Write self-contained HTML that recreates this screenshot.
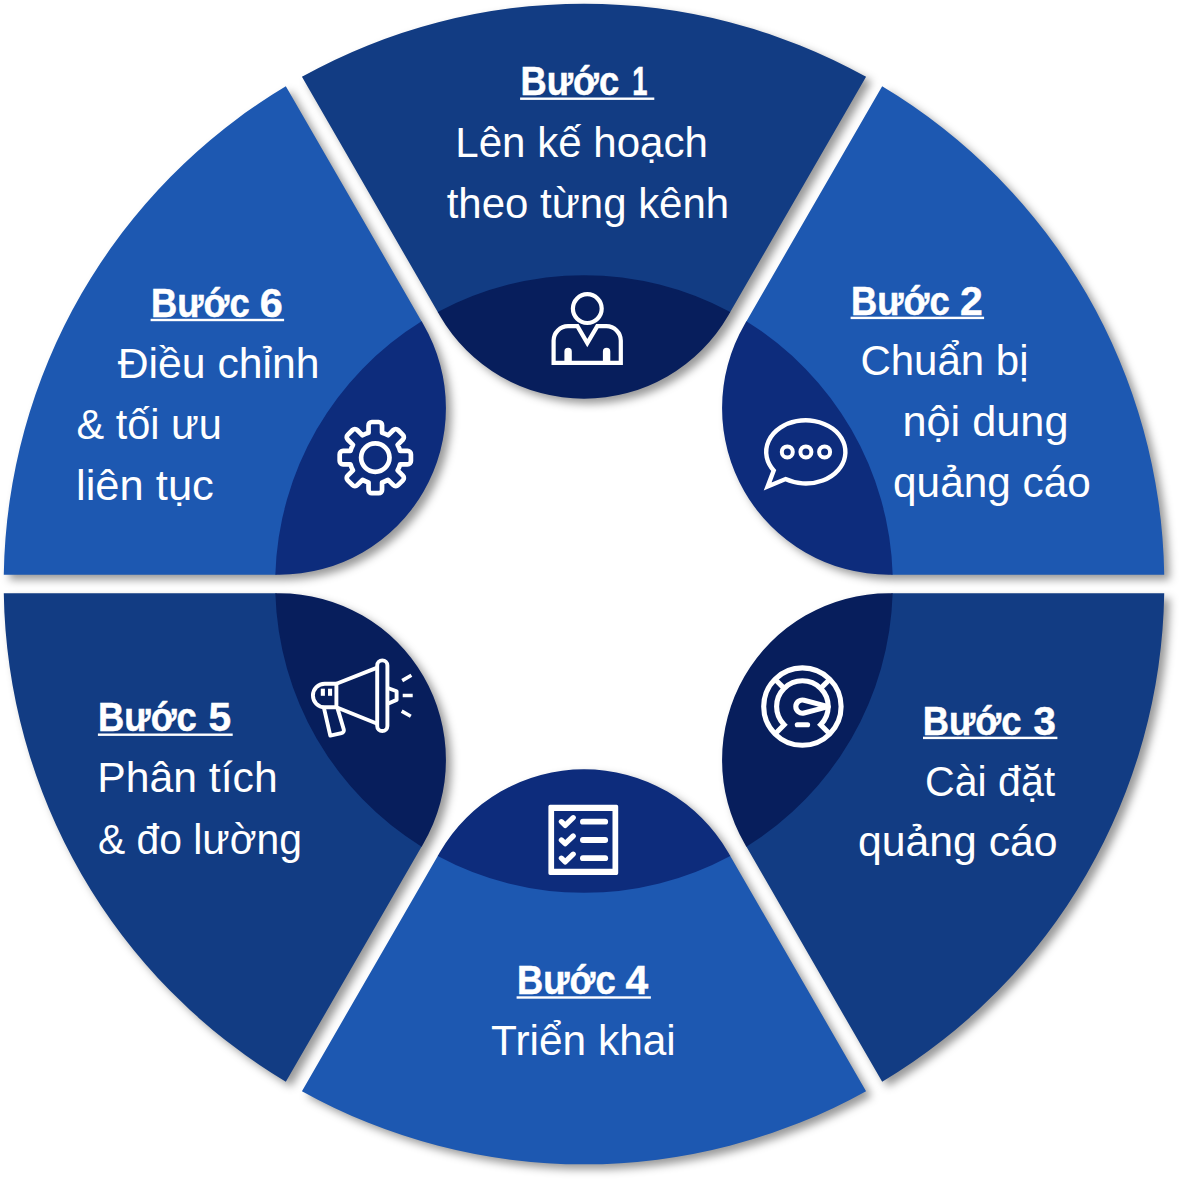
<!DOCTYPE html>
<html lang="vi"><head><meta charset="utf-8"><title>Quy trình 6 bước</title>
<style>html,body{margin:0;padding:0;background:#fff}body{width:1180px;height:1180px;overflow:hidden}svg{display:block}
text{font-family:"Liberation Sans",sans-serif;fill:#fff}</style></head>
<body><svg width="1180" height="1180" viewBox="0 0 1180 1180">
<defs><filter id="sh" color-interpolation-filters="sRGB" x="-5%" y="-5%" width="112%" height="112%"><feDropShadow dx="5.5" dy="5" stdDeviation="4.4" flood-color="#000" flood-opacity="0.4"/></filter>
</defs>
<rect width="1180" height="1180" fill="#fff"/>
<g filter="url(#sh)"><path d="M301.94 76.86 A580.3 580.3 0 0 1 866.06 76.86 L729.68 313.08 A307.6 307.6 0 0 0 438.32 313.08 Z" fill="#123c83"/><path d="M437.72 312.04 A308.8 308.8 0 0 1 730.28 312.04 L728.28 315.50 A166.6 166.6 0 0 1 439.72 315.50 Z" fill="#071e5c"/></g>
<g filter="url(#sh)"><path d="M882.17 86.16 A580.3 580.3 0 0 1 1164.23 574.70 L891.46 574.70 A307.6 307.6 0 0 0 745.78 322.38 Z" fill="#1d58b1"/><path d="M746.38 321.34 A308.8 308.8 0 0 1 892.66 574.70 L888.67 574.70 A166.6 166.6 0 0 1 744.39 324.80 Z" fill="#0d2c7c"/></g>
<g filter="url(#sh)"><path d="M1164.23 593.30 A580.3 580.3 0 0 1 882.17 1081.84 L745.78 845.62 A307.6 307.6 0 0 0 891.46 593.30 Z" fill="#123c83"/><path d="M892.66 593.30 A308.8 308.8 0 0 1 746.38 846.66 L744.39 843.20 A166.6 166.6 0 0 1 888.67 593.30 Z" fill="#071e5c"/></g>
<g filter="url(#sh)"><path d="M866.06 1091.14 A580.3 580.3 0 0 1 301.94 1091.14 L438.32 854.92 A307.6 307.6 0 0 0 729.68 854.92 Z" fill="#1d58b1"/><path d="M730.28 855.96 A308.8 308.8 0 0 1 437.72 855.96 L439.72 852.50 A166.6 166.6 0 0 1 728.28 852.50 Z" fill="#0d2c7c"/></g>
<g filter="url(#sh)"><path d="M285.83 1081.84 A580.3 580.3 0 0 1 3.77 593.30 L276.54 593.30 A307.6 307.6 0 0 0 422.22 845.62 Z" fill="#123c83"/><path d="M421.62 846.66 A308.8 308.8 0 0 1 275.34 593.30 L279.33 593.30 A166.6 166.6 0 0 1 423.61 843.20 Z" fill="#071e5c"/></g>
<g filter="url(#sh)"><path d="M3.77 574.70 A580.3 580.3 0 0 1 285.83 86.16 L422.22 322.38 A307.6 307.6 0 0 0 276.54 574.70 Z" fill="#1d58b1"/><path d="M275.34 574.70 A308.8 308.8 0 0 1 421.62 321.34 L423.61 324.80 A166.6 166.6 0 0 1 279.33 574.70 Z" fill="#0d2c7c"/></g>
<g fill="none" stroke="#fff" stroke-width="4.2" stroke-linejoin="miter"><circle cx="587.3" cy="308.6" r="14.4"/><path d="M553.6 362.9 V340.6 A14.4 14.4 0 0 1 568 326.2 H577.4 L587.3 343.1 L597.3 326.2 H606.4 A14.4 14.4 0 0 1 620.8 340.6 V362.9 Z"/><path d="M568.1 361 V351.4 M606.6 361 V351.4" stroke-width="7.4" stroke-linecap="round"/></g>
<g fill="none" stroke="#fff" stroke-width="4.4" stroke-linejoin="miter"><path d="M773.72 470.43 A39.6 31.6 0 1 1 785.52 479.04 L767.6 486.6 Z"/><circle cx="787.3" cy="451.9" r="5.5" stroke-width="4"/><circle cx="805.9" cy="451.9" r="5.5" stroke-width="4"/><circle cx="824.6" cy="451.9" r="5.5" stroke-width="4"/></g>
<g fill="none" stroke="#fff" stroke-width="5.1" stroke-linejoin="round"><circle cx="802.4" cy="706.6" r="38.7"/><path stroke-linejoin="miter" d="M775.03 733.97 L784.16 724.84 A25.8 25.8 0 1 1 820.64 724.84 L829.77 733.97"/><path d="M820.64 688.36 L829.77 679.23"/><path d="M784.16 688.36 L775.03 679.23"/><path d="M828.20 706.60 L804.09 700.22 A6.6 6.6 0 1 0 804.09 712.98 Z"/><path d="M797.3 724.7 H807.6" stroke-linecap="round"/></g>
<g fill="none" stroke="#fff"><path fill="#fff" stroke="none" fill-rule="evenodd" d="M550 804.8 H616.6 A1.6 1.6 0 0 1 618.2 806.4 V873.3 A1.6 1.6 0 0 1 616.6 874.9 H550 A1.6 1.6 0 0 1 548.4 873.3 V806.4 A1.6 1.6 0 0 1 550 804.8 Z M554.1 810.9 V868.8 H612.5 V810.9 Z"/><path d="M582.9 821.7 H605.2" stroke-width="5.8" stroke-linecap="round"/><path d="M561.4 821.7 L565.2 825.4 L573.2 817.7" stroke-width="5.3" stroke-linecap="round" stroke-linejoin="round"/><path d="M582.9 840.0 H605.2" stroke-width="5.8" stroke-linecap="round"/><path d="M561.4 840.0 L565.2 843.7 L573.2 836.0" stroke-width="5.3" stroke-linecap="round" stroke-linejoin="round"/><path d="M582.9 858.2 H605.2" stroke-width="5.8" stroke-linecap="round"/><path d="M561.4 858.2 L565.2 861.9 L573.2 854.2" stroke-width="5.3" stroke-linecap="round" stroke-linejoin="round"/></g>
<g fill="none" stroke="#fff" stroke-width="3.9" stroke-linejoin="round"><path d="M336.4 683.7 H324.7 A11.8 11.8 0 0 0 324.7 707.3 H336.4 Z"/><path d="M336.4 683.7 L377.3 667.6 M336.4 707.3 L377.3 723.8"/><rect x="377.2" y="660.4" width="10.2" height="70.6" rx="5.1"/><path d="M388.4 688.2 L396.6 691.3 V699.9 L388.4 703.5"/><path d="M324.1 708.6 L330.3 735.6 L341.5 733.2 A3 3 0 0 0 343.8 729.5 L337.6 708.6"/><path d="M402.2 680.6 L411.4 675.3 M402.7 695.5 H412.7 M401.7 711.1 L410.8 716.2" stroke-width="3.6"/><rect x="320.8" y="688.7" width="4.1" height="7.1" fill="#fff" stroke="none"/><rect x="328" y="688.7" width="4.1" height="7.1" fill="#fff" stroke="none"/></g>
<g fill="none" stroke="#fff" stroke-width="4.7" stroke-linejoin="round"><path d="M368.55 432.80 L368.55 425.30 A3.3 3.3 0 0 1 371.85 422.00 L378.75 422.00 A3.3 3.3 0 0 1 382.05 425.30 L382.05 432.80 A25.70 25.70 0 0 1 388.06 435.29 L393.37 429.99 A3.3 3.3 0 0 1 398.03 429.99 L402.91 434.87 A3.3 3.3 0 0 1 402.91 439.53 L397.61 444.84 A25.70 25.70 0 0 1 400.10 450.85 L407.60 450.85 A3.3 3.3 0 0 1 410.90 454.15 L410.90 461.05 A3.3 3.3 0 0 1 407.60 464.35 L400.10 464.35 A25.70 25.70 0 0 1 397.61 470.36 L402.91 475.67 A3.3 3.3 0 0 1 402.91 480.33 L398.03 485.21 A3.3 3.3 0 0 1 393.37 485.21 L388.06 479.91 A25.70 25.70 0 0 1 382.05 482.40 L382.05 489.90 A3.3 3.3 0 0 1 378.75 493.20 L371.85 493.20 A3.3 3.3 0 0 1 368.55 489.90 L368.55 482.40 A25.70 25.70 0 0 1 362.54 479.91 L357.23 485.21 A3.3 3.3 0 0 1 352.57 485.21 L347.69 480.33 A3.3 3.3 0 0 1 347.69 475.67 L352.99 470.36 A25.70 25.70 0 0 1 350.50 464.35 L343.00 464.35 A3.3 3.3 0 0 1 339.70 461.05 L339.70 454.15 A3.3 3.3 0 0 1 343.00 450.85 L350.50 450.85 A25.70 25.70 0 0 1 352.99 444.84 L347.69 439.53 A3.3 3.3 0 0 1 347.69 434.87 L352.57 429.99 A3.3 3.3 0 0 1 357.23 429.99 L362.54 435.29 A25.70 25.70 0 0 1 368.55 432.80 Z"/><circle cx="375.3" cy="457.6" r="14.2"/></g>
<text y="95.30" font-size="41" font-weight="bold" stroke="#fff" stroke-width="0.5"><tspan id="t0a" x="520.50" textLength="98.59" lengthAdjust="spacingAndGlyphs">Bước</tspan> <tspan id="t0b" x="632.20" textLength="15.21" lengthAdjust="spacingAndGlyphs">1</tspan></text>
<rect x="520.1" y="97.5" width="134.2" height="2.4" fill="#fff"/>
<text id="t1" y="156.60" font-size="42" x="455.30" textLength="252.64" lengthAdjust="spacingAndGlyphs">Lên kế hoạch</text>
<text id="t2" y="217.50" font-size="42" x="446.70" textLength="282.46" lengthAdjust="spacingAndGlyphs">theo từng kênh</text>
<text y="314.50" font-size="41" font-weight="bold" stroke="#fff" stroke-width="0.5"><tspan id="t3a" x="851.00" textLength="98.59" lengthAdjust="spacingAndGlyphs">Bước</tspan> <tspan id="t3b" x="959.90" textLength="22.75" lengthAdjust="spacingAndGlyphs">2</tspan></text>
<rect x="850.6" y="316.7" width="133.5" height="2.4" fill="#fff"/>
<text id="t4" y="375.10" font-size="42" x="860.40" textLength="168.12" lengthAdjust="spacingAndGlyphs">Chuẩn bị</text>
<text id="t5" y="436.00" font-size="42" x="902.50" textLength="165.96" lengthAdjust="spacingAndGlyphs">nội dung</text>
<text id="t6" y="497.30" font-size="42" x="893.10" textLength="197.62" lengthAdjust="spacingAndGlyphs">quảng cáo</text>
<text y="734.50" font-size="41" font-weight="bold" stroke="#fff" stroke-width="0.5"><tspan id="t7a" x="922.80" textLength="98.61" lengthAdjust="spacingAndGlyphs">Bước</tspan> <tspan id="t7b" x="1033.40" textLength="22.40" lengthAdjust="spacingAndGlyphs">3</tspan></text>
<rect x="923.0" y="736.7" width="134.4" height="2.4" fill="#fff"/>
<text id="t8" y="795.50" font-size="42" x="925.00" textLength="130.22" lengthAdjust="spacingAndGlyphs">Cài đặt</text>
<text id="t9" y="856.40" font-size="42" x="857.90" textLength="199.67" lengthAdjust="spacingAndGlyphs">quảng cáo</text>
<text y="994.10" font-size="41" font-weight="bold" stroke="#fff" stroke-width="0.5"><tspan id="t10a" x="517.00" textLength="98.59" lengthAdjust="spacingAndGlyphs">Bước</tspan> <tspan id="t10b" x="625.50" textLength="22.66" lengthAdjust="spacingAndGlyphs">4</tspan></text>
<rect x="516.6" y="996.3" width="134.3" height="2.4" fill="#fff"/>
<text id="t11" y="1055.20" font-size="42" x="491.10" textLength="184.71" lengthAdjust="spacingAndGlyphs">Triển khai</text>
<text y="731.30" font-size="41" font-weight="bold" stroke="#fff" stroke-width="0.5"><tspan id="t12a" x="98.10" textLength="98.62" lengthAdjust="spacingAndGlyphs">Bước</tspan> <tspan id="t12b" x="208.40" textLength="22.62" lengthAdjust="spacingAndGlyphs">5</tspan></text>
<rect x="97.9" y="733.5" width="134.8" height="2.4" fill="#fff"/>
<text id="t13" y="792.40" font-size="42" x="97.30" textLength="180.38" lengthAdjust="spacingAndGlyphs">Phân tích</text>
<text id="t14" y="853.50" font-size="42" x="97.90" textLength="204.06" lengthAdjust="spacingAndGlyphs">&amp; đo lường</text>
<text y="316.60" font-size="41" font-weight="bold" stroke="#fff" stroke-width="0.5"><tspan id="t15a" x="151.00" textLength="98.59" lengthAdjust="spacingAndGlyphs">Bước</tspan> <tspan id="t15b" x="259.80" textLength="22.98" lengthAdjust="spacingAndGlyphs">6</tspan></text>
<rect x="150.6" y="318.8" width="133.5" height="2.4" fill="#fff"/>
<text id="t16" y="377.60" font-size="42" x="117.70" textLength="201.94" lengthAdjust="spacingAndGlyphs">Điều chỉnh</text>
<text id="t17" y="438.60" font-size="42" x="76.60" textLength="145.35" lengthAdjust="spacingAndGlyphs">&amp; tối ưu</text>
<text id="t18" y="499.60" font-size="42" x="76.00" textLength="137.82" lengthAdjust="spacingAndGlyphs">liên tục</text>
</svg></body></html>
